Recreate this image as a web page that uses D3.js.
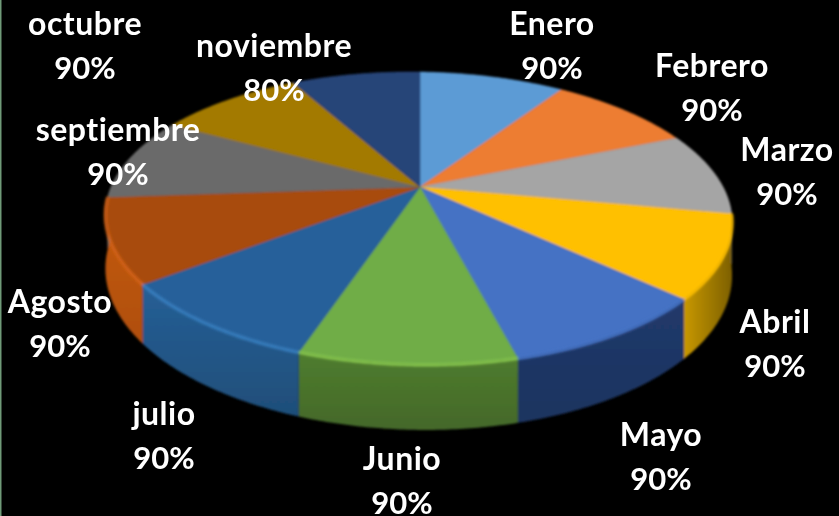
<!DOCTYPE html>
<html><head><meta charset="utf-8">
<script src="https://cdn.jsdelivr.net/npm/d3@7"></script>
<style>html,body{margin:0;padding:0;background:#000;overflow:hidden}svg{display:block}</style>
</head><body><svg id="c" width="839" height="516"></svg>
<script>
const categories = ["Enero","Febrero","Marzo","Abril","Mayo","Junio","julio","Agosto","septiembre","octubre","noviembre"];
const values = [90,90,90,90,90,90,90,90,90,90,80];
const topColors = ["#5b9bd5","#ed7d31","#a5a5a5","#ffc000","#4472c4","#70ad47","#27609a","#a84c0a","#6a6a6a","#a37a00","#264478"];
const wallTop = ["#5b9bd5","#ed7d31","#a5a5a5","#c89800","#20386a","#4f7d2e","#265f96","#c55a11","#6a6a6a","#a37a00","#264478"];
const wallBottom = ["#5b9bd5","#ed7d31","#a5a5a5","#7d6000","#1f3560","#44682a","#1f4e79","#b04f0e","#6a6a6a","#a37a00","#264478"];
const rimColors = [null,null,null,"#ffc000","#4472c4","#8ccc50","#3c88cc","#e0691a",null,null,null];
const labelX = [552,712,787,775,661,402,164,60,118,85,274];
const labelY = [35,77,161,333,446,470,425,313,141,35,57];

const svg = d3.select("#c");
const defs = svg.append("defs");
defs.append("filter").attr("id","soft").attr("x","-5%").attr("y","-5%").attr("width","110%").attr("height","110%")
  .append("feGaussianBlur").attr("stdDeviation",0.9);
defs.append("filter").attr("id","softText").attr("x","-5%").attr("y","-5%").attr("width","110%").attr("height","110%")
  .append("feGaussianBlur").attr("stdDeviation",0.45);
defs.append("filter").attr("id","softRim").attr("x","-5%").attr("y","-20%").attr("width","110%").attr("height","140%")
  .append("feGaussianBlur").attr("stdDeviation",1.6);

svg.append("rect").attr("width",839).attr("height",516).attr("fill","#000");
svg.append("rect").attr("width",1.5).attr("height",516).attr("fill","#6f9a78");

const k = 0.215, m = 0.004, shear = 0.012, depth = 0.365;
const xs = d3.scaleLinear().domain([-1,1]).range([420-306,420+306]);
const ys = d3.scaleLinear().domain([-1,1]).range([187-139.7,187+139.7]);
const project = (a,r,h) => {
  const u = r*Math.sin(a), v = -r*Math.cos(a), w = 1-k*v+m*u;
  const x = xs(u/w);
  return [x, ys((v+h)/w)+shear*(x-420)];
};
const pie = d3.pie().sort(null).value(d=>d);
const arcs = pie(values);
const samples = d => d3.range(0,61).map(i=>d.startAngle+(d.endAngle-d.startAngle)*i/60);
const line = d3.line();

const g = svg.append("g").attr("filter","url(#soft)");
const visibleWall = d => d.startAngle < Math.PI*1.6 && d.endAngle > Math.PI*0.45;

arcs.forEach((d,i)=>{
  const id = "w"+i, gr = defs.append("linearGradient").attr("id",id)
    .attr("x1",0).attr("y1",0).attr("x2",i===3?1:0).attr("y2",i===3?0:1);
  gr.append("stop").attr("offset",0).attr("stop-color",wallTop[i]);
  gr.append("stop").attr("offset",1).attr("stop-color",wallBottom[i]);
});
g.append("g").selectAll("path").data(arcs.filter(visibleWall)).join("path")
  .attr("fill",d=>`url(#w${d.index})`)
  .attr("d",d=>{
    const s = samples(d);
    return line(s.map(a=>project(a,1,0)).concat(s.slice().reverse().map(a=>project(a,1,depth))))+"Z";
  });
g.append("g").selectAll("path").data(arcs).join("path")
  .attr("fill",d=>topColors[d.index])
  .attr("stroke",d=>topColors[d.index]).attr("stroke-width",0.6)
  .attr("d",d=>line([project(0,0,0)].concat(samples(d).map(a=>project(a,1,0))))+"Z");
svg.append("g").attr("filter","url(#softRim)").attr("fill","none").attr("stroke-width",2.5)
  .selectAll("path").data(arcs.filter(d=>rimColors[d.index])).join("path")
  .attr("stroke",d=>rimColors[d.index])
  .attr("d",d=>line(samples(d).map(a=>project(a,1,0))));

const t = svg.append("g").attr("filter","url(#softText)").attr("fill","#fff")
  .attr("font-family","Lato").attr("font-weight",700).attr("font-size",31).attr("text-anchor","middle")
  .style("font-variant-ligatures","none");
const lab = t.selectAll("text").data(categories).join("text");
lab.append("tspan").attr("x",(d,i)=>labelX[i]).attr("y",(d,i)=>labelY[i])
  .attr("font-size",32).attr("letter-spacing",0.5).text(d=>d);
lab.append("tspan").attr("x",(d,i)=>labelX[i]).attr("y",(d,i)=>labelY[i]+44).text((d,i)=>values[i]+"%");
</script></body></html>
